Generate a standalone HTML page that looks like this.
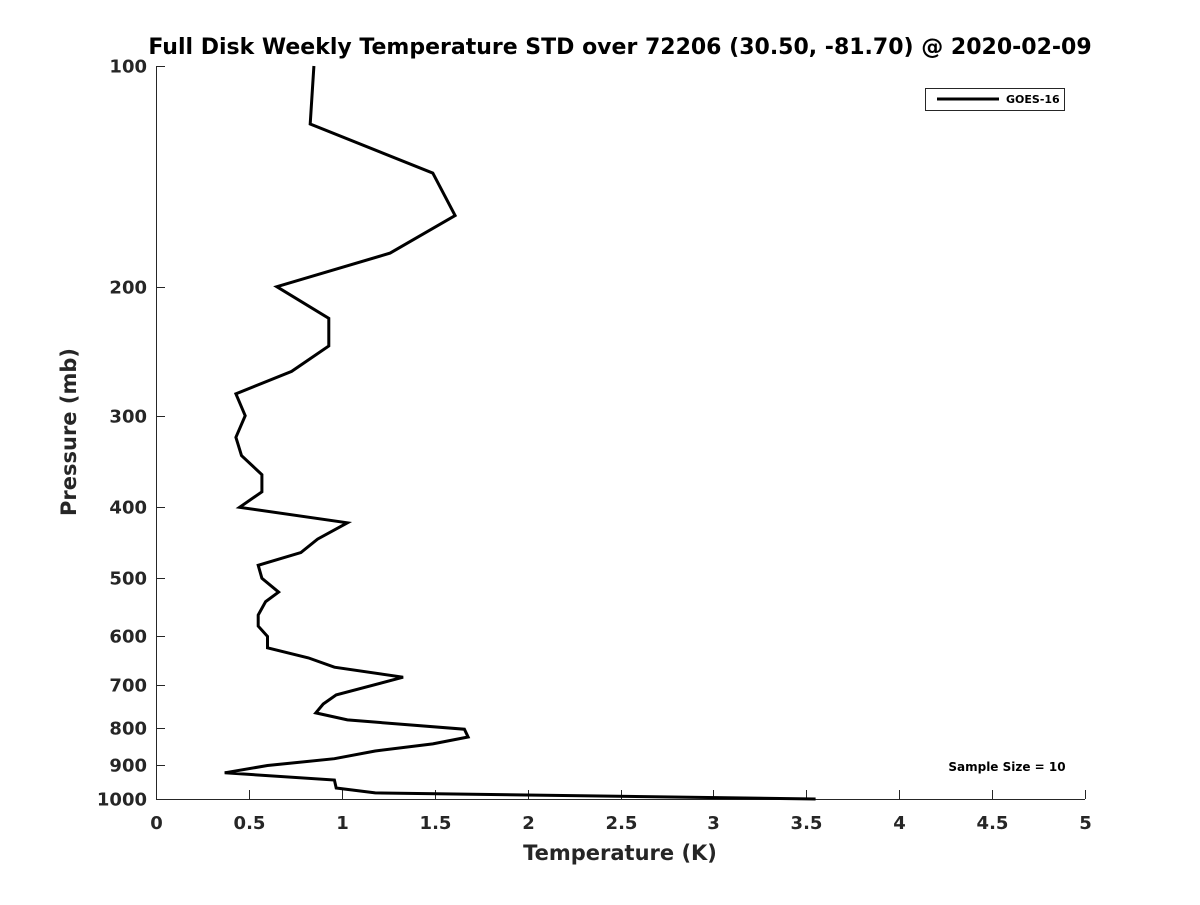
<!DOCTYPE html>
<html><head><meta charset="utf-8"><style>
body{margin:0;background:#fff;}
svg text{font-family:"DejaVu Sans","Liberation Sans",sans-serif;font-weight:bold;fill:#262626;}
</style></head><body>
<svg id="chart" width="1200" height="900" xmlns="http://www.w3.org/2000/svg">
<text x="620" y="54" font-size="22" text-anchor="middle" style="fill:#000">Full Disk Weekly Temperature STD over 72206 (30.50, -81.70) @ 2020-02-09</text>
<g id="axes"></g>
<g id="series"></g>
<g>
<rect x="925.5" y="88.5" width="139" height="22" fill="#fff" stroke="#262626" stroke-width="1"/>
<line x1="937" y1="99" x2="999" y2="99" stroke="#000" stroke-width="3"/>
<text x="1006" y="103" font-size="11" style="fill:#000">GOES-16</text>
</g>
<text x="1007" y="771" font-size="12" text-anchor="middle" style="fill:#000">Sample Size = 10</text>
<text x="620" y="860" font-size="21" text-anchor="middle">Temperature (K)</text>
<text transform="translate(76,432) rotate(-90)" font-size="21" text-anchor="middle">Pressure (mb)</text>
</svg>
<script>
const xTicks=[0,0.5,1,1.5,2,2.5,3,3.5,4,4.5,5];
const xTickLabels=["0","0.5","1","1.5","2","2.5","3","3.5","4","4.5","5"];
const yTicks=[100,200,300,400,500,600,700,800,900,1000];
const yTickLabels=["100","200","300","400","500","600","700","800","900","1000"];
const pressures=[100,120,140,160,180,200,221,241,261,280,300,321,340,361,381,400,420,442,461,480,500,522,538,561,581,600,622,642,661,682,721,742,763,780,803,823,841,860,881,900,921,942,966,981,1000];
const stdValues=[0.85,0.83,1.49,1.61,1.26,0.65,0.93,0.93,0.73,0.43,0.48,0.43,0.46,0.57,0.57,0.45,1.03,0.87,0.78,0.55,0.57,0.66,0.59,0.55,0.55,0.6,0.6,0.82,0.96,1.33,0.97,0.9,0.86,1.03,1.66,1.68,1.49,1.18,0.96,0.6,0.37,0.96,0.97,1.18,3.55];
const X0=156,X1=1085,Y0=66,Y1=799;
const xS=v=>X0+(v-0)/(5-0)*(X1-X0);
const yS=p=>Y0+(Math.log10(p)-2)/(3-2)*(Y1-Y0);
const NS="http://www.w3.org/2000/svg";
function mk(t,a,parent){const e=document.createElementNS(NS,t);for(const k in a)e.setAttribute(k,a[k]);parent.appendChild(e);return e;}
const axes=document.getElementById('axes');
const xa=mk('line',{x1:X0,y1:Y1+0.5,x2:X1,y2:Y1+0.5,stroke:'#262626','stroke-width':1},axes);


const ya=mk('line',{x1:X0+0.5,y1:Y0,x2:X0+0.5,y2:Y1,stroke:'#262626','stroke-width':1},axes);


xTicks.forEach((v,i)=>{
 const x=Math.round(xS(v))+0.5;
 const t=mk('line',{x1:x,y1:Y1,x2:x,y2:Y1-9,stroke:'#262626'},axes);
 
 
 const l=mk('text',{x:x,y:829,'font-size':18,'text-anchor':'middle'},axes);
 l.textContent=xTickLabels[i];
 
 
});
yTicks.forEach((p,i)=>{
 const y=Math.round(yS(p))+0.5;
 const t=mk('line',{x1:X0,y1:y,x2:X0+9,y2:y,stroke:'#262626'},axes);
 
 
 const l=mk('text',{x:147,y:y+6,'font-size':18,'text-anchor':'end'},axes);
 l.textContent=yTickLabels[i];
 
 
});
const d=pressures.map((p,i)=>(i?'L':'M')+xS(stdValues[i]).toFixed(1)+','+yS(p).toFixed(1)).join(' ');
const ln=mk('path',{d:d,fill:'none',stroke:'#000','stroke-width':3,'stroke-linejoin':'miter'},document.getElementById('series'));


</script>
</body></html>
